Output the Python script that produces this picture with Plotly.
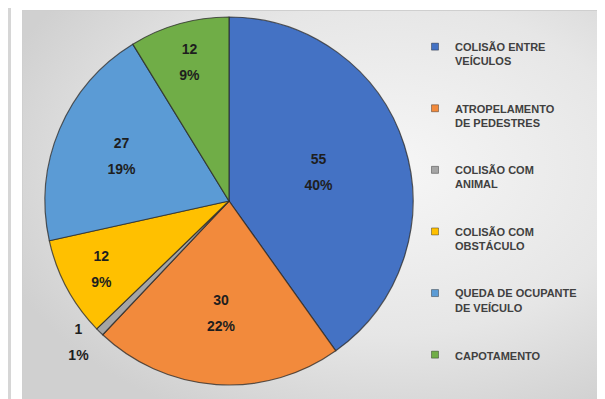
import base64
import plotly.graph_objects as go

categories = [
    "COLISÃO ENTRE<br>VEÍCULOS",
    "ATROPELAMENTO<br>DE PEDESTRES",
    "COLISÃO COM<br>ANIMAL",
    "COLISÃO COM<br>OBSTÁCULO",
    "QUEDA DE OCUPANTE<br>DE VEÍCULO",
    "CAPOTAMENTO",
]
values = [55, 30, 1, 12, 27, 12]
percent_labels = ["40%", "22%", "1%", "9%", "19%", "9%"]
colors = ["#4472C4", "#F28A3C", "#A5A5A5", "#FFC000", "#5B9BD5", "#70AD47"]
text_positions = ["inside", "inside", "outside", "inside", "inside", "inside"]

W, H = 605, 399

# background panel with radial gradient
svg = (
    '<svg xmlns="http://www.w3.org/2000/svg" width="591" height="397">'
    '<defs><radialGradient id="g" cx="62%" cy="40%" r="70%">'
    '<stop offset="0" stop-color="#f6f6f6"/>'
    '<stop offset="0.6" stop-color="#e6e6e6"/>'
    '<stop offset="1" stop-color="#d0d0d0"/>'
    '</radialGradient></defs>'
    '<rect x="0.5" y="0.5" width="590" height="396" fill="url(#g)" stroke="#cfcfcf"/>'
    '</svg>'
)
src = "data:image/svg+xml;base64," + base64.b64encode(svg.encode()).decode()

fig = go.Figure()

cx, cy, R = 221, 193, 184
fig.add_trace(go.Pie(
    labels=categories,
    values=values,
    text=percent_labels,
    sort=False,
    direction="clockwise",
    rotation=0,
    marker=dict(colors=colors, line=dict(color="rgba(40,40,40,0.75)", width=1.2)),
    texttemplate="<span style='font-size:14px'><b>%{value}</b></span><br>"
                 "<span style='font-size:14px'><b>%{text}</b></span>",
    textposition=text_positions,
    insidetextorientation="horizontal",
    textfont=dict(family="Liberation Sans, Arial, sans-serif", size=20, color="#1e1e1e"),
    showlegend=False,
    hoverinfo="label+value+percent",
    domain=dict(x=[(cx - R) / W, (cx + R) / W], y=[(H - cy - R) / H, (H - cy + R) / H]),
))

# legend entries
for name, col in zip(categories, colors):
    fig.add_trace(go.Scatter(
        x=[None], y=[None], mode="markers", name=f"<b>{name}</b>", legendgroup=name,
        marker=dict(symbol="square", size=7, color=col,
                    line=dict(color="rgba(0,0,0,0.35)", width=1)),
        hoverinfo="skip",
    ))

fig.update_layout(
    width=W, height=H,
    margin=dict(l=0, r=0, t=0, b=0),
    paper_bgcolor="white",
    plot_bgcolor="rgba(0,0,0,0)",
    xaxis=dict(visible=False),
    yaxis=dict(visible=False),
    showlegend=True,
    legend=dict(
        x=407 / W, y=1 - 25 / H, xanchor="left", yanchor="top",
        font=dict(family="Liberation Sans, Arial, sans-serif", size=11, color="#404040"),
        bgcolor="rgba(0,0,0,0)",
        tracegroupgap=30,
        itemwidth=30,
        valign="top",
    ),
    images=[dict(source=src, xref="paper", yref="paper",
                 x=14 / W, y=1 - 2 / H, sizex=591 / W, sizey=397 / H,
                 xanchor="left", yanchor="top", sizing="stretch", layer="below")],
    shapes=[dict(type="rect", xref="paper", yref="paper",
                 x0=0, x1=3 / W, y0=0, y1=1, fillcolor="#d6d6d6", line=dict(width=0),
                 layer="below")],
)

fig.write_html("out.html")
